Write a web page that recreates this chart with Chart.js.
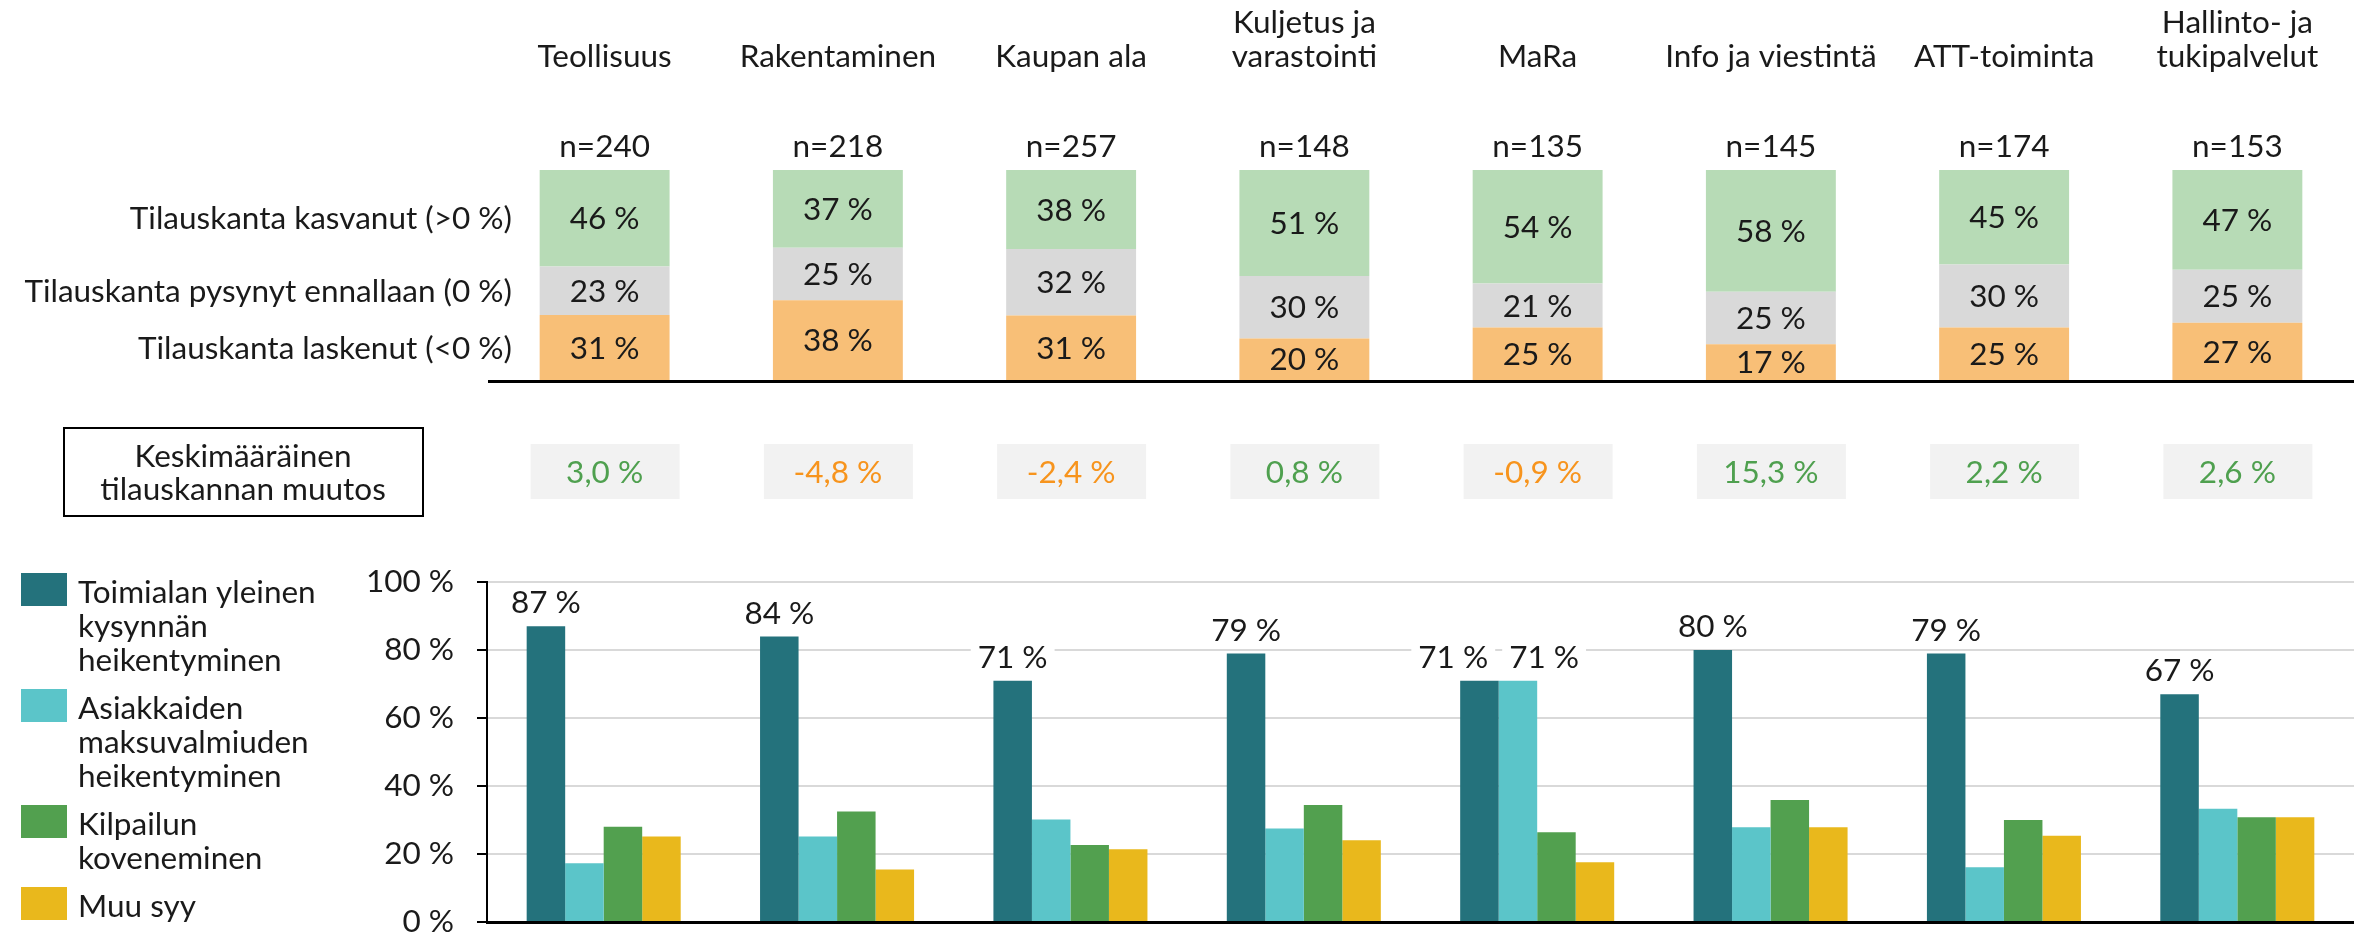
<!DOCTYPE html>
<html>
<head>
<meta charset="utf-8">
<script src="https://cdn.jsdelivr.net/npm/chart.js@4.4.1/dist/chart.umd.min.js"></script>
<style>
  html, body { margin: 0; padding: 0; background: #fff; overflow: hidden; }
  #wrap { position: relative; width: 2354px; height: 933px; overflow: hidden; }
  #top { position: absolute; left: 0; top: 0; }
  #bottom { position: absolute; left: 0; top: 540px; }
</style>
</head>
<body>
<div id="wrap">
  <canvas id="top" width="2354" height="520"></canvas>
  <canvas id="bottom" width="2354" height="424"></canvas>
</div>
<script>
// categories (multi-line names as arrays)
const categories = [["Teollisuus"], ["Rakentaminen"], ["Kaupan ala"], ["Kuljetus ja", "varastointi"],
  ["MaRa"], ["Info ja viestintä"], ["ATT-toiminta"], ["Hallinto- ja", "tukipalvelut"]];
const sampleSizes = [240, 218, 257, 148, 135, 145, 174, 153];

// order book change, share of respondents (%)
const stackLabels = ["Tilauskanta kasvanut (>0 %)", "Tilauskanta pysynyt ennallaan (0 %)", "Tilauskanta laskenut (<0 %)"];
const increased = [46, 37, 38, 51, 54, 58, 45, 47];
const unchanged = [23, 25, 32, 30, 21, 25, 30, 25];
const decreased = [31, 38, 31, 20, 25, 17, 25, 27];

// average change of order book (%)
const avgChangeTitle = ["Keskimääräinen", "tilauskannan muutos"];
const avgChange = [3.0, -4.8, -2.4, 0.8, -0.9, 15.3, 2.2, 2.6];

// reasons for decrease (%)
const reasonLabels = ["Toimialan yleinen kysynnän heikentyminen", "Asiakkaiden maksuvalmiuden heikentyminen",
  "Kilpailun koveneminen", "Muu syy"];
const demandWeak = [87, 84, 71, 79, 71, 80, 79, 67];
const paymentWeak = [17.3, 25.2, 30.2, 27.5, 71, 27.9, 16.1, 33.3];
const competition = [28.0, 32.5, 22.7, 34.4, 26.4, 35.9, 30.0, 30.8];
const otherReason = [25.2, 15.5, 21.4, 24.1, 17.6, 27.9, 25.4, 30.8];
const yTicks = [0, 20, 40, 60, 80, 100];

const FONT = "Lato, 'Liberation Sans', sans-serif";
const FONT_CSS = "31.5px " + FONT;
const TEXT = "#1a1a1a";
Chart.defaults.font.family = FONT;
Chart.defaults.font.size = 31.5;
Chart.defaults.color = TEXT;

const fmtPct = (v) => v.toFixed(1).replace(".", ",") + " %";

// ---------- top: 100 % stacked bars ----------
const stackRaw = [decreased, unchanged, increased];
const stackColors = ["#f8bf77", "#d9d9d9", "#b7dbb6"];
const totals = increased.map((v, i) => v + unchanged[i] + decreased[i]);

const topPlugin = {
  id: "topText",
  afterDatasetsDraw(chart) {
    const ctx = chart.ctx;
    const x = chart.scales.x;
    const area = chart.chartArea;
    ctx.save();
    ctx.font = FONT_CSS;
    ctx.fillStyle = TEXT;
    ctx.textAlign = "center";
    ctx.textBaseline = "middle";

    // values inside segments
    stackRaw.forEach((arr, di) => {
      chart.getDatasetMeta(di).data.forEach((bar, i) => {
        ctx.fillText(arr[i] + " %", bar.x, (bar.y + bar.base) / 2 + 1);
      });
    });

    // row labels, aligned to first bar's segments
    ctx.textAlign = "right";
    [2, 1, 0].forEach((di, k) => {
      const bar = chart.getDatasetMeta(di).data[0];
      ctx.fillText(stackLabels[k], 512, (bar.y + bar.base) / 2 + 1);
    });

    // category names and n
    ctx.textAlign = "center";
    ctx.textBaseline = "alphabetic";
    categories.forEach((lines, i) => {
      const cx = x.getPixelForValue(i);
      lines.forEach((line, j) => {
        ctx.fillText(line, cx, 67 - (lines.length - 1 - j) * 34);
      });
      ctx.fillText("n=" + sampleSizes[i], cx, 157);
    });

    // baseline
    ctx.fillStyle = "#000";
    ctx.fillRect(area.left, area.bottom, chart.width - area.left, 3);

    // average change row
    ctx.strokeStyle = "#000";
    ctx.lineWidth = 2;
    ctx.strokeRect(64, 428, 359, 88);
    ctx.fillStyle = TEXT;
    ctx.fillText(avgChangeTitle[0], 243, 467);
    ctx.fillText(avgChangeTitle[1], 243, 500);
    avgChange.forEach((v, i) => {
      const cx = x.getPixelForValue(i);
      ctx.fillStyle = "#f2f2f2";
      ctx.fillRect(cx - 74, 444, 149, 55);
      ctx.fillStyle = v < 0 ? "#f7941d" : "#4fa04f";
      ctx.fillText(fmtPct(v), cx, 483);
    });
    ctx.restore();
  },
};

new Chart(document.getElementById("top"), {
  type: "bar",
  data: {
    labels: categories,
    datasets: stackRaw.map((arr, di) => ({
      data: arr.map((v, i) => (v / totals[i]) * 100),
      backgroundColor: stackColors[di],
      borderWidth: 0,
      barPercentage: 0.557,
      categoryPercentage: 1,
    })),
  },
  options: {
    responsive: false,
    animation: false,
    layout: { padding: { left: 488, top: 170, right: 0, bottom: 140 } },
    plugins: { legend: { display: false }, tooltip: { enabled: false } },
    scales: {
      x: { display: false, stacked: true },
      y: { display: false, stacked: true, min: 0, max: 100 },
    },
  },
  plugins: [topPlugin],
});

// ---------- bottom: reasons, grouped bars ----------
const reasonSeries = [demandWeak, paymentWeak, competition, otherReason];
const reasonColors = ["#24727c", "#5bc5c9", "#52a04f", "#e9b81c"];

function wrapText(ctx, text, maxWidth) {
  const words = text.split(" ");
  const lines = [];
  let cur = "";
  words.forEach((w) => {
    const test = cur ? cur + " " + w : w;
    if (ctx.measureText(test).width > maxWidth && cur) {
      lines.push(cur);
      cur = w;
    } else {
      cur = test;
    }
  });
  lines.push(cur);
  return lines;
}

const bottomPlugin = {
  id: "bottomText",
  afterDatasetsDraw(chart) {
    const ctx = chart.ctx;
    ctx.save();
    ctx.font = FONT_CSS;
    ctx.textAlign = "center";
    ctx.textBaseline = "middle";

    // value labels above the tall bars, pushed apart when they'd collide
    categories.forEach((c, i) => {
      const items = [];
      reasonSeries.forEach((arr, di) => {
        if (arr[i] < 50) return;
        const bar = chart.getDatasetMeta(di).data[i];
        const txt = Math.round(arr[i]) + " %";
        items.push({ txt, x: bar.x, y: bar.y, w: ctx.measureText(txt).width });
      });
      if (items.length === 2) {
        const mid = (items[0].x + items[1].x) / 2;
        const half = (items[0].w + 21) / 2;
        items[0].x = mid - half;
        items[1].x = mid + half;
      }
      items.forEach((it) => {
        const cy = it.y - 24;
        ctx.fillStyle = "#fff";
        ctx.fillRect(it.x - it.w / 2 - 7, cy - 17, it.w + 14, 34);
        ctx.fillStyle = TEXT;
        ctx.fillText(it.txt, it.x, cy + 1);
      });
    });

    // legend on the left
    ctx.textAlign = "left";
    ctx.textBaseline = "alphabetic";
    let y = 33;
    reasonLabels.forEach((label, i) => {
      ctx.fillStyle = reasonColors[i];
      ctx.fillRect(21, y, 46, 33);
      ctx.fillStyle = TEXT;
      const lines = wrapText(ctx, label, 250);
      lines.forEach((line, j) => ctx.fillText(line, 78, y + 30 + j * 34));
      y += lines.length * 34 + 14;
    });
    ctx.restore();
  },
};

new Chart(document.getElementById("bottom"), {
  type: "bar",
  data: {
    labels: categories,
    datasets: reasonSeries.map((arr, di) => ({
      label: reasonLabels[di],
      data: arr,
      backgroundColor: reasonColors[di],
      borderWidth: 0,
      barPercentage: 1,
      categoryPercentage: 0.66,
    })),
  },
  options: {
    responsive: false,
    animation: false,
    layout: { padding: { left: 0, top: 42, right: 0, bottom: 0 } },
    plugins: { legend: { display: false }, tooltip: { enabled: false } },
    scales: {
      x: {
        grid: { display: false, drawTicks: false },
        ticks: { display: false },
        border: { display: true, color: "#000", width: 3 },
        afterFit: (s) => { s.height = 30; },
      },
      y: {
        min: 0,
        max: 100,
        afterBuildTicks: (s) => { s.ticks = yTicks.map((v) => ({ value: v })); },
        ticks: { callback: (v) => v + " %", padding: 23, color: TEXT },
        grid: { color: "#d9d9d9", lineWidth: 2, tickColor: "#000", tickLength: 10, tickWidth: 2 },
        border: { display: true, color: "#000", width: 2 },
        afterFit: (s) => { s.width = 487; },
      },
    },
  },
  plugins: [bottomPlugin],
});
</script>
</body>
</html>
